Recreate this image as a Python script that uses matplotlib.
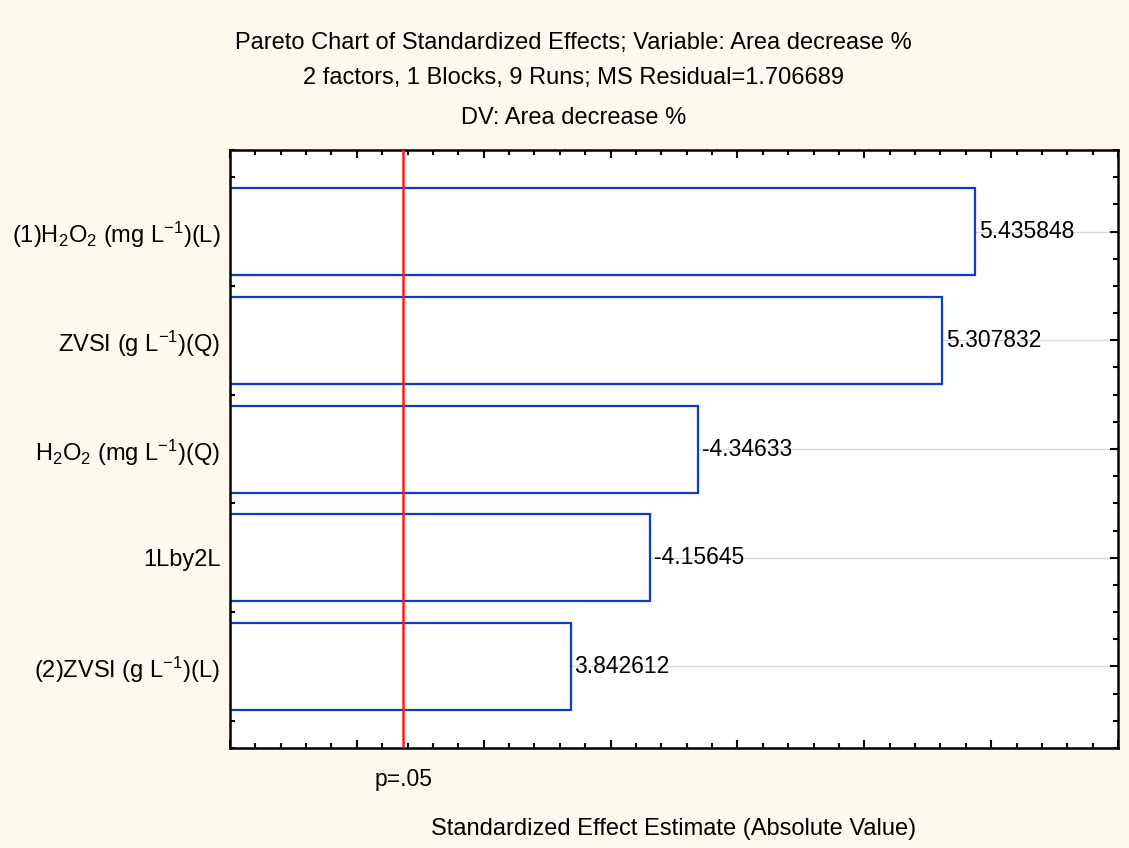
import numpy as np
import matplotlib
matplotlib.use("Agg")
import matplotlib.pyplot as plt
from matplotlib.ticker import MultipleLocator, FixedLocator

plt.rcParams['font.family'] = ['Liberation Sans', 'DejaVu Sans']
plt.rcParams['mathtext.fontset'] = 'custom'
plt.rcParams['mathtext.rm'] = 'Liberation Sans'
plt.rcParams['mathtext.default'] = 'regular'

# efectos estandarizados (t), de mayor a menor
factores = [r"(1)H$_2$O$_2$ (mg L$^{-1}$)(L)",
            r"ZVSI (g L$^{-1}$)(Q)",
            r"H$_2$O$_2$ (mg L$^{-1}$)(Q)",
            "1Lby2L",
            r"(2)ZVSI (g L$^{-1}$)(L)"]
efectos = [5.435848, 5.307832, -4.34633, -4.15645, 3.842612]
t_critico = 3.182446   # p=.05, 3 gl

fondo = "#fdf9ee"
azul = "#0a3fc2"
fs_txt = 17
fs_num = 16.5

fig = plt.figure(figsize=(11.29, 8.48), dpi=100, facecolor=fondo)
ax = fig.add_axes([0.2037, 0.1179, 0.7866, 0.7052])

ypos = np.arange(len(efectos))
absolutos = np.abs(efectos)

for y in ypos:
    ax.axhline(y, color="#d9d9d9", lw=1, zorder=1)

ax.barh(ypos, absolutos, height=0.8, color="white", edgecolor=azul,
        linewidth=1.6, zorder=2)

for y, v in zip(ypos, efectos):
    ax.text(abs(v) + 0.015, y, f"{v:.7g}", va="center", ha="left",
            fontsize=fs_num, zorder=4)

ax.axvline(t_critico, color="#ff1a1a", lw=1.8, zorder=3)

ax.set_xlim(2.5, 6.0)
ax.set_ylim(len(efectos) - 0.25, -0.75)

ax.xaxis.set_major_locator(MultipleLocator(0.5))
ax.xaxis.set_minor_locator(MultipleLocator(0.1))
ax.yaxis.set_major_locator(FixedLocator(ypos))
ax.yaxis.set_minor_locator(MultipleLocator(0.25))
ax.set_xticklabels([])
ax.set_yticks(ypos)
ax.set_yticklabels(factores, fontsize=fs_txt)

ax.tick_params(which="both", direction="in", top=True, right=True,
               width=1.5, color="black")
ax.tick_params(which="major", length=6)
ax.tick_params(which="minor", length=3.5)
ax.tick_params(axis="y", which="major", pad=7)
for s in ax.spines.values():
    s.set_linewidth(1.8)

ax.text(t_critico, -0.033, "p=.05", transform=ax.get_xaxis_transform(),
        ha="center", va="top", fontsize=fs_num)
ax.set_xlabel("Standardized Effect Estimate (Absolute Value)", fontsize=fs_txt,
              labelpad=47)

fig.text(0.508, 0.949, "Pareto Chart of Standardized Effects; Variable: Area decrease %",
         ha="center", va="center", fontsize=fs_txt)
fig.text(0.508, 0.908, "2 factors, 1 Blocks, 9 Runs; MS Residual=1.706689",
         ha="center", va="center", fontsize=fs_txt)
fig.text(0.508, 0.861, "DV: Area decrease %", ha="center", va="center",
         fontsize=fs_txt)

plt.savefig("out.png", facecolor=fondo)
